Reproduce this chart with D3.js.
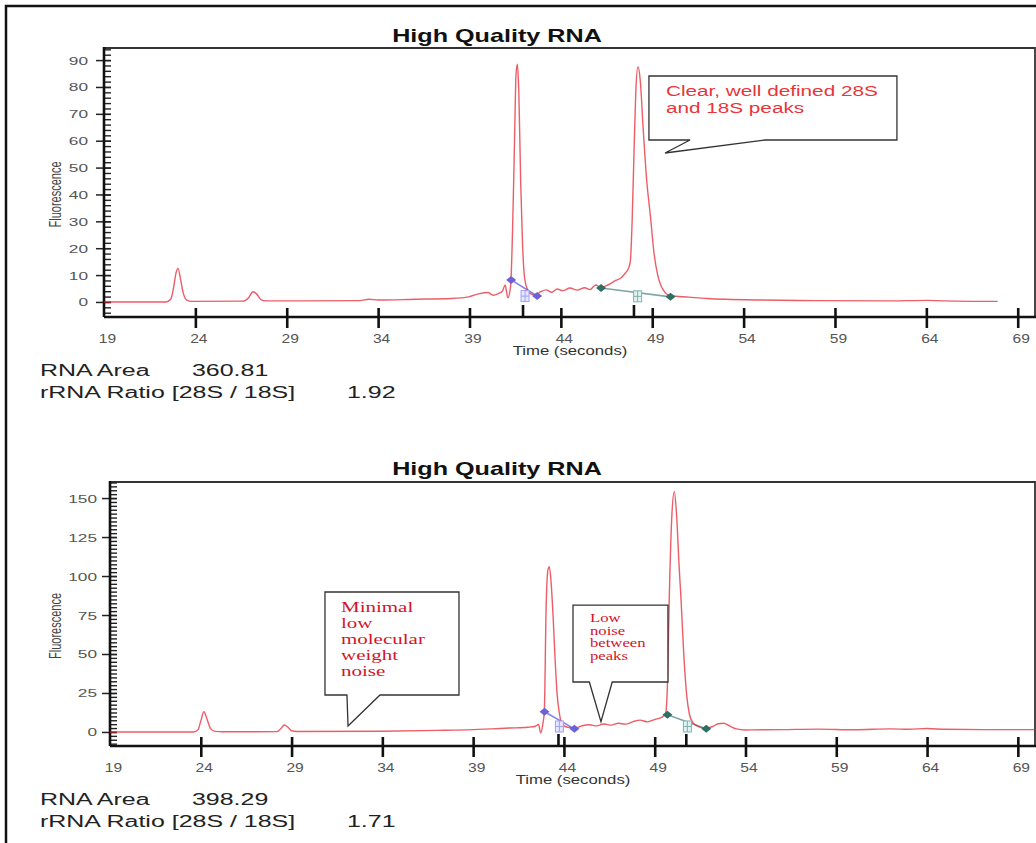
<!DOCTYPE html>
<meta charset="utf-8">
<style>
  body { margin: 0; background: #fff; }
  svg text { font-family: "Liberation Sans", Arial, sans-serif; }
</style>

<body>
  <div id="chart"></div>

  <script src="https://cdn.jsdelivr.net/npm/d3@7/dist/d3.min.js"></script>
  <script>
    // ---- data ----
    var timeTicks = [19, 24, 29, 34, 39, 44, 49, 54, 59, 64, 69];
    var topFluorTicks = [0, 10, 20, 30, 40, 50, 60, 70, 80, 90];
    var bottomFluorTicks = [0, 25, 50, 75, 100, 125, 150];

    var panelTitles = ["High Quality RNA", "High Quality RNA"];
    var statLabels = ["RNA Area", "rRNA Ratio [28S / 18S]"];
    var topStatValues = ["360.81", "1.92"];
    var bottomStatValues = ["398.29", "1.71"];

    // [time (s), fluorescence]
    var topTrace = [
      [19, 0], [22.4, 0], [22.65, 1], [22.8, 5], [22.95, 11], [23.05, 12.5], [23.2, 8], [23.35, 3], [23.55, 0.6],
      [23.8, 0.2], [26.6, 0.3], [26.9, 1.5], [27.15, 3.8], [27.35, 3], [27.6, 0.8], [27.9, 0.4], [33, 0.5],
      [33.5, 1], [34, 0.7], [36, 1], [38, 1.3], [39, 2], [39.5, 3], [40, 3.5], [40.3, 2.5], [40.6, 3.2],
      [40.8, 4], [40.95, 6.3], [41.1, 1.5], [41.25, 6], [41.35, 25], [41.45, 55], [41.55, 85], [41.62, 88.5],
      [41.7, 78], [41.8, 45], [41.9, 22], [42.0, 10], [42.15, 5], [42.35, 3], [42.6, 2.6], [42.9, 3.8],
      [43.2, 4.5], [43.5, 3.6], [43.8, 4.8], [44.1, 4.2], [44.5, 5.2], [44.9, 4.4], [45.3, 5.3], [45.6, 4.6],
      [45.9, 6.3], [46.2, 5.4], [46.6, 6.4], [47, 8], [47.3, 9], [47.5, 10.5], [47.7, 12.5], [47.8, 15],
      [47.9, 30], [48.0, 55], [48.1, 78], [48.22, 87.5], [48.35, 82], [48.5, 65], [48.7, 45], [48.9, 32],
      [49.1, 18], [49.3, 10], [49.6, 4.5], [50, 2.3], [51, 1.8], [52, 1.3], [53, 1], [55, 0.7], [58, 0.5],
      [62, 0.4], [64, 0.6], [65, 0.4], [67.9, 0.2]
    ];
    var bottomTrace = [
      [19, 0], [23.6, 0], [23.85, 1.5], [24.0, 7], [24.17, 13], [24.35, 8], [24.55, 2], [24.8, 0.4],
      [25.2, 0.1], [28.2, 0.2], [28.4, 2], [28.6, 4.5], [28.8, 3], [29.0, 0.8], [29.3, 0.3], [34, 0.5],
      [37, 1], [39, 1.5], [40, 2], [41, 2.5], [42, 3], [42.4, 3.5], [42.6, 4.8], [42.72, -0.6], [42.85, 6],
      [42.92, 13], [43.02, 80], [43.12, 104], [43.2, 106], [43.3, 95], [43.4, 75], [43.5, 50], [43.62, 25],
      [43.75, 12], [43.9, 5], [44.2, 3], [44.6, 2.5], [45, 4], [45.4, 4.6], [45.8, 3.9], [46.2, 5.1],
      [46.6, 4.4], [47, 5.6], [47.4, 5], [47.8, 6.6], [48.2, 7.6], [48.6, 6.5], [49, 8], [49.4, 9.5],
      [49.6, 12], [49.7, 30], [49.8, 85], [49.95, 140], [50.08, 154], [50.2, 140], [50.35, 105], [50.45, 85],
      [50.6, 50], [50.75, 25], [50.9, 12], [51.1, 6], [51.4, 3.5], [51.8, 2.4], [52.2, 3.5], [52.5, 5.3],
      [52.8, 5.6], [53.1, 4], [53.5, 2], [54, 1.3], [56, 1.5], [58, 1.8], [60, 1.4], [62, 2], [63, 1.7],
      [64, 2.2], [65, 1.7], [68, 1.5], [70, 1.5]
    ];

    // rRNA peak regions: start / end points of the 18S and 28S baselines
    var top18SRegion = [[41.28, 8.2], [42.7, 2.2]];
    var top28SRegion = [[46.2, 5.2], [50.0, 1.9]];
    var bottom18SRegion = [[42.93, 13], [44.58, 2]];
    var bottom28SRegion = [[49.7, 11], [51.84, 2]];
    // region flags (little icons) and their ticks on the time axis
    var topFlags = [[42.04, 2.0], [48.2, 1.9]];
    var bottomFlags = [[43.75, 3.2], [50.8, 3.2]];
    var topFlagTicks = [41.93, 48.0];
    var bottomFlagTicks = [43.7, 50.74];

    var topNote = ["Clear, well defined 28S", "and 18S peaks"];
    var bottomNoteA = ["Minimal", "low", "molecular", "weight", "noise"];
    var bottomNoteB = ["Low", "noise", "between", "peaks"];

    var W = 1036, H = 843;
    var svg = d3.select("#chart").append("svg").attr("width", W).attr("height", H);

    // outer frame of the figure
    svg.append("path")
      .attr("d", "M6," + H + "V6H" + W)
      .attr("fill", "none")
      .attr("stroke", "#111")
      .attr("stroke-width", 2.5);

    // the source picture is stretched horizontally, so text is too
    function place(sel, x, y, sx) {
      return sel.attr("transform", "translate(" + x + "," + y + ") scale(" + sx + ",1)");
    }

    function drawPanel(p) {
      var x = d3.scaleLinear().domain([19, 70]).range([p.left, W]);
      var y = d3.scaleLinear().domain(p.yDomain).range([p.bottom, p.top]);
      var g = svg.append("g");

      // plot frame (top + right)
      g.append("path")
        .attr("d", "M" + p.left + "," + p.top + "H" + (W - 1) + "V" + p.bottom)
        .attr("fill", "none")
        .attr("stroke", "#333")
        .attr("stroke-width", 1.8);

      // minor ticks on the fluorescence axis
      var minor = g.append("g")
        .attr("transform", "translate(" + p.left + ",0)")
        .call(d3.axisRight(y).tickValues(d3.range(p.minorFrom, p.yDomain[1], p.minorStep)).tickSize(7).tickFormat(""));
      minor.select(".domain").remove();
      minor.selectAll("line").attr("stroke", "#222").attr("stroke-width", 1.4);

      // major ticks + labels
      var yAxis = g.append("g")
        .attr("transform", "translate(" + p.left + ",0)")
        .call(d3.axisLeft(y).tickValues(p.yTicks).tickSize(8));
      yAxis.select(".domain").remove();
      yAxis.selectAll("line").attr("x1", 7).attr("stroke", "#222").attr("stroke-width", 1.5);
      yAxis.selectAll("text").each(function () {
        var t = d3.select(this);
        t.attr("x", null).attr("dy", null).attr("fill", "#555")
          .style("font-size", "10.8px");
        place(t, -p.yLabelGap, 4, 1.6);
      });

      // time axis
      var xAxis = g.append("g")
        .attr("transform", "translate(0," + p.bottom + ")")
        .call(d3.axisBottom(x).tickValues(timeTicks).tickSize(11));
      xAxis.select(".domain").remove();
      xAxis.selectAll("line").attr("y1", -9).attr("stroke", "#111").attr("stroke-width", 2.6);
      xAxis.selectAll(".tick").filter(function (d) { return d === 19; }).select("line").remove();
      xAxis.selectAll("text").each(function () {
        var t = d3.select(this);
        t.attr("y", null).attr("dy", null).attr("fill", "#555").style("font-size", "13px");
        place(t, 3, 25.5, 1.2);
      });

      // region flag ticks
      g.selectAll(".flagTick")
        .data(p.flagTicks)
        .enter()
        .append("line")
        .attr("x1", function (d) { return x(d); })
        .attr("x2", function (d) { return x(d); })
        .attr("y1", p.bottom - 12)
        .attr("y2", p.bottom)
        .attr("stroke", "#111")
        .attr("stroke-width", 2.6);

      // axis lines
      g.append("line")
        .attr("x1", p.left).attr("x2", W)
        .attr("y1", p.bottom).attr("y2", p.bottom)
        .attr("stroke", "#111").attr("stroke-width", 2.4);
      g.append("line")
        .attr("x1", p.left).attr("x2", p.left)
        .attr("y1", p.top - 1).attr("y2", p.bottom)
        .attr("stroke", "#111").attr("stroke-width", 2.6);

      // region baselines + diamonds
      var regions = [
        { pts: p.r18, line: "#8484ea", fill: "#6c62d6" },
        { pts: p.r28, line: "#7ea8a4", fill: "#2f6e62" }
      ];
      regions.forEach(function (r) {
        g.append("path")
          .datum(r.pts)
          .attr("d", d3.line().x(function (d) { return x(d[0]); }).y(function (d) { return y(d[1]); }))
          .attr("fill", "none")
          .attr("stroke", r.line)
          .attr("stroke-width", 1.6);
      });

      // the electropherogram
      g.append("path")
        .datum(p.trace)
        .attr("d", d3.line()
          .x(function (d) { return x(d[0]); })
          .y(function (d) { return y(d[1]); })
          .curve(d3.curveMonotoneX))
        .attr("fill", "none")
        .attr("stroke", "#e41f2d")
        .attr("stroke-opacity", 0.72)
        .attr("stroke-width", 1.4);

      regions.forEach(function (r) {
        g.selectAll(null)
          .data(r.pts)
          .enter()
          .append("path")
          .attr("d", "M0,-4L5,0L0,4L-5,0Z")
          .attr("transform", function (d) { return "translate(" + x(d[0]) + "," + y(d[1]) + ")"; })
          .attr("fill", r.fill);
      });

      // flag icons
      var flag = g.selectAll(".flag")
        .data(p.flags)
        .enter()
        .append("g")
        .attr("transform", function (d) { return "translate(" + x(d[0]) + "," + y(d[1]) + ")"; });
      flag.append("rect")
        .attr("x", -4).attr("y", -6).attr("width", 8).attr("height", 11)
        .attr("fill", function (d, i) { return i ? "#e2f2f0" : "#e6e6ff"; })
        .attr("stroke", function (d, i) { return i ? "#7fb4b0" : "#a0a0f0"; })
        .attr("stroke-width", 1);
      flag.append("path")
        .attr("d", "M-4,-0.5H4M0,-6V5")
        .attr("stroke", function (d, i) { return i ? "#7fb4b0" : "#a0a0f0"; })
        .attr("stroke-width", 1);

      // title
      place(g.append("text"), 497, p.titleY, 1.36)
        .attr("text-anchor", "middle")
        .style("font-size", "18.5px")
        .style("font-weight", "bold")
        .attr("fill", "#111")
        .text(p.title);

      // axis titles
      place(g.append("text"), (p.left + W) / 2, p.bottom + 38, 1.34)
        .attr("text-anchor", "middle")
        .style("font-size", "12.5px")
        .attr("fill", "#333")
        .text("Time (seconds)");
      g.append("text")
        .attr("transform", "translate(61," + ((p.top + p.bottom) / 2 + 12) + ") scale(1.45,1) rotate(-90)")
        .attr("text-anchor", "middle")
        .style("font-size", "11px")
        .attr("fill", "#444")
        .text("Fluorescence");

      // stats under the plot
      statLabels.forEach(function (s, i) {
        var yy = p.statsY + i * 21.5;
        place(g.append("text"), 40, yy, 1.56).style("font-size", "16px").attr("fill", "#222").text(s);
        place(g.append("text"), i ? 347 : 192, yy, 1.56).style("font-size", "16px").attr("fill", "#222")
          .text(p.stats[i]);
      });

      // call-outs
      p.notes.forEach(function (n) {
        var l = x(n.box[0]), r = x(n.box[1]), t = y(n.box[3]), b = y(n.box[2]);
        g.append("path")
          .attr("d", "M" + l + "," + t + "H" + r + "V" + b + "H" + x(n.tail[1]) +
            "L" + x(n.tip[0]) + "," + y(n.tip[1]) + "L" + x(n.tail[0]) + "," + b + "H" + l + "Z")
          .attr("fill", "#fff")
          .attr("stroke", "#333")
          .attr("stroke-width", 1.3);
        n.lines.forEach(function (s, i) {
          place(g.append("text"), l + n.pad[0], t + n.pad[1] + i * n.step, n.sx)
            .style("font-family", n.font)
            .style("font-size", n.size + "px")
            .attr("fill", n.color)
            .text(s);
        });
      });
    }

    drawPanel({
      title: panelTitles[0], titleY: 41.5,
      left: 104, top: 48, bottom: 317,
      yDomain: [-5.6, 94.5], yTicks: topFluorTicks, minorFrom: -4, minorStep: 2, yLabelGap: 16,
      trace: topTrace, r18: top18SRegion, r28: top28SRegion, flags: topFlags, flagTicks: topFlagTicks,
      statsY: 376, stats: topStatValues,
      notes: [{
        box: [48.82, 62.39, 60.27, 84.08], tail: [51.07, 55.17], tip: [49.7, 55.43],
        lines: topNote, pad: [17, 20], step: 16.5, sx: 1.48, size: 14,
        font: "'Liberation Sans', Arial, sans-serif", color: "#e8353a"
      }]
    });

    drawPanel({
      title: panelTitles[1], titleY: 475,
      left: 110, top: 482, bottom: 746,
      yDomain: [-9, 160.3], yTicks: bottomFluorTicks, minorFrom: -7.5, minorStep: 2.5, yLabelGap: 13,
      trace: bottomTrace, r18: bottom18SRegion, r28: bottom28SRegion, flags: bottomFlags, flagTicks: bottomFlagTicks,
      statsY: 805, stats: bottomStatValues,
      notes: [{
        box: [30.84, 38.22, 23.7, 89.76], tail: [32.05, 33.87], tip: [32.11, 3.83],
        lines: bottomNoteA, pad: [16, 19.7], step: 16, sx: 1.4, size: 15,
        font: "'Liberation Serif', 'Times New Roman', serif", color: "#d4142a"
      }, {
        box: [44.5, 49.73, 32.04, 81.4], tail: [45.4, 46.66], tip: [46.04, 6.58],
        lines: bottomNoteB, pad: [17, 17], step: 12.7, sx: 1.39, size: 12,
        font: "'Liberation Serif', 'Times New Roman', serif", color: "#d4142a"
      }]
    });
  </script>
</body>
